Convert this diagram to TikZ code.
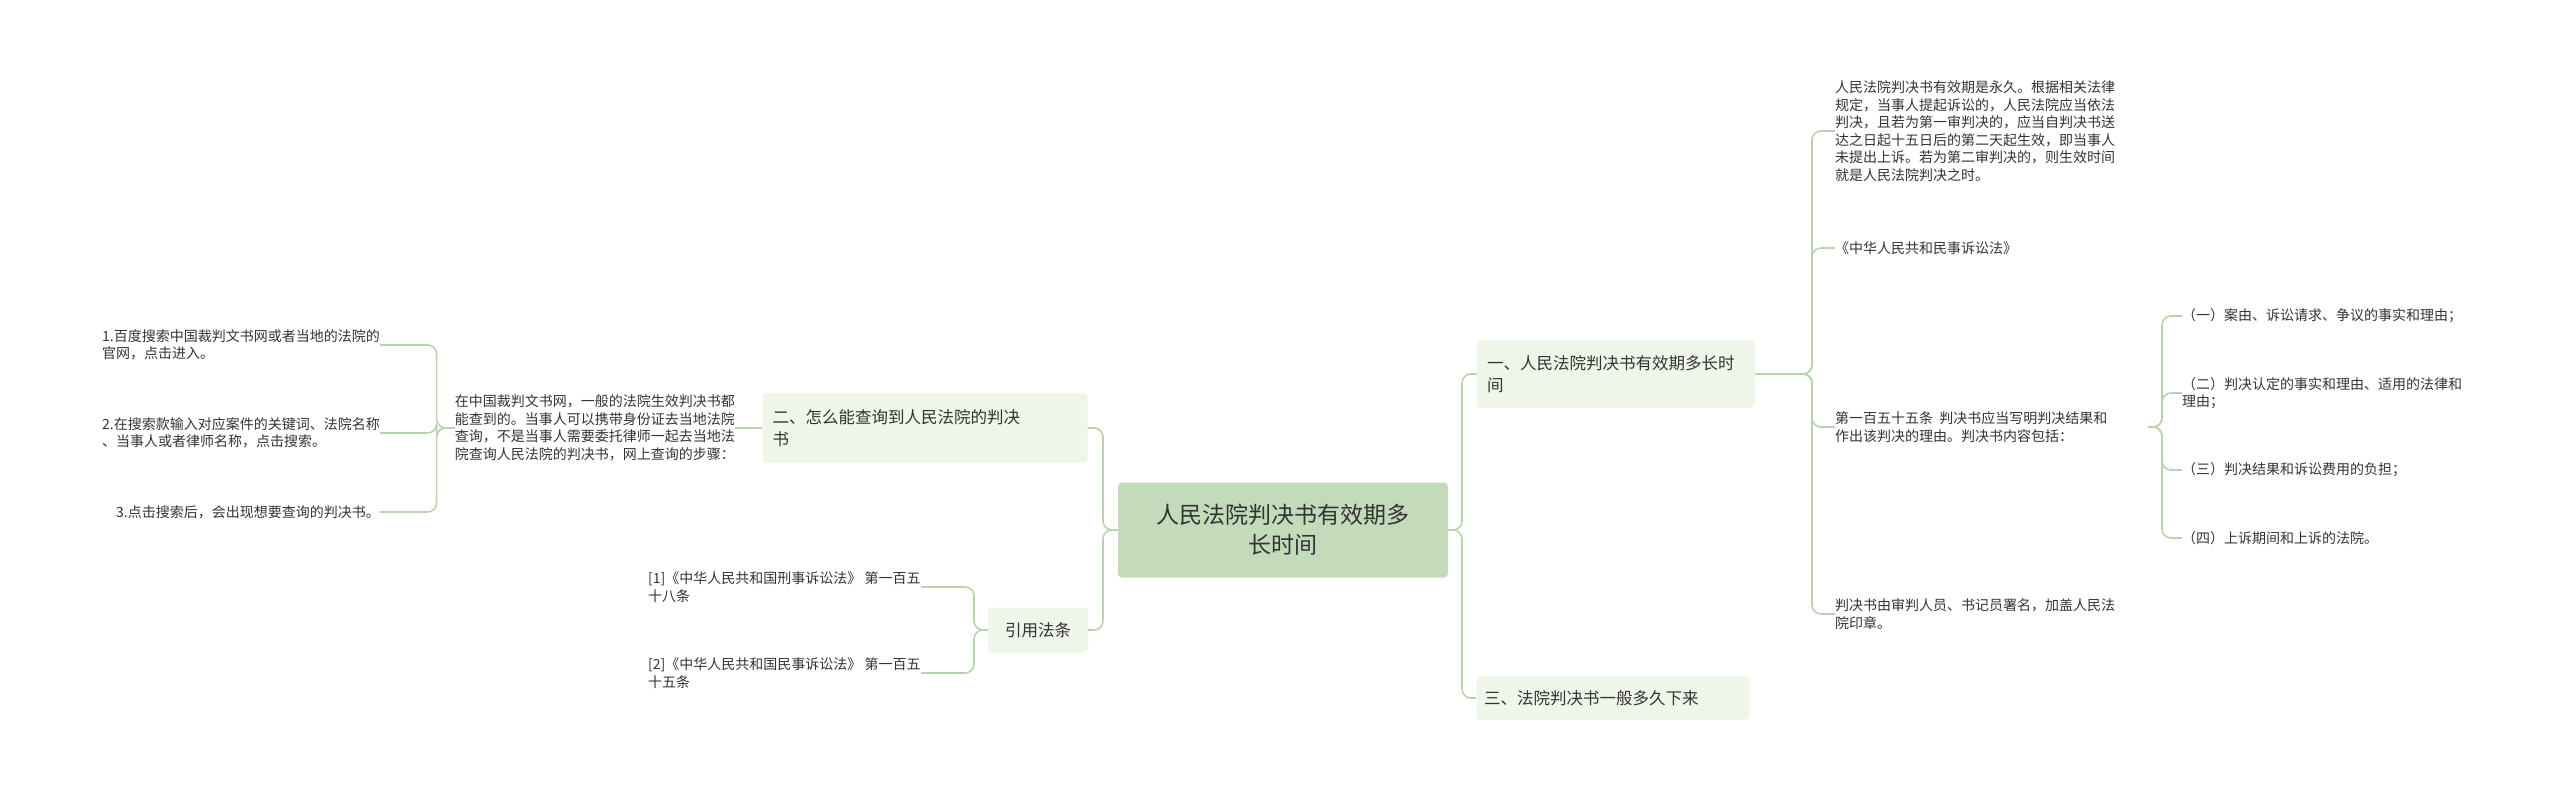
\documentclass[tikz,border=0pt]{standalone}
\usepackage{fontspec}
\setmainfont{Noto Sans CJK SC}
\definecolor{rootc}{HTML}{C3DBBA}
\definecolor{brc}{HTML}{EFF5E8}
\definecolor{lnc}{HTML}{B8D3AE}
\definecolor{txc}{HTML}{333333}
\begin{document}
\begin{tikzpicture}[x=1pt,y=-1pt,
  rootbox/.style={fill=rootc,rounded corners=4pt,align=center,font=\fontsize{23}{30}\selectfont,text=txc,inner sep=0pt},
  brbox/.style={fill=brc,rounded corners=4pt,align=left,font=\fontsize{16.5}{22}\selectfont,text=txc,inner sep=0pt},
  leaf/.style={align=left,font=\fontsize{14}{17.5}\selectfont,text=txc,inner sep=0pt},
  conn/.style={draw=lnc,line width=1.6pt,rounded corners=9pt}]
\useasboundingbox (0,0) rectangle (2560,786);
\node[rootbox,minimum width=330,minimum height=95] (root) at (1283,530) {人民法院判决书有效期多\\长时间};
\node[brbox,minimum width=278,minimum height=68,text width=258] (b1) at (1616,374) {一、人民法院判决书有效期多长时\\间};
\node[brbox,minimum width=273,minimum height=44,text width=258] (b3) at (1613,698) {三、法院判决书一般多久下来};
\node[brbox,minimum width=325,minimum height=70,text width=305] (b2) at (925,428) {二、怎么能查询到人民法院的判决\\书};
\node[brbox,minimum width=100,minimum height=45,align=center] (b4) at (1038,630) {引用法条};
% right leaves
\node[leaf,anchor=west] (l1) at (1835,131) {人民法院判决书有效期是永久。根据相关法律\\规定，当事人提起诉讼的，人民法院应当依法\\判决，且若为第一审判决的，应当自判决书送\\达之日起十五日后的第二天起生效，即当事人\\未提出上诉。若为第二审判决的，则生效时间\\就是人民法院判决之时。};
\node[leaf,anchor=west] (l2) at (1835,248) {《中华人民共和民事诉讼法》};
\node[leaf,anchor=west] (l3) at (1835,427) {第一百五十五条\ \ 判决书应当写明判决结果和\\作出该判决的理由。判决书内容包括：};
\node[leaf,anchor=west] (l4) at (1835,614) {判决书由审判人员、书记员署名，加盖人民法\\院印章。};
\node[leaf,anchor=west] (s1) at (2182,316) {（一）案由、诉讼请求、争议的事实和理由；};
\node[leaf,anchor=west] (s2) at (2182,393) {（二）判决认定的事实和理由、适用的法律和\\理由；};
\node[leaf,anchor=west] (s3) at (2182,470) {（三）判决结果和诉讼费用的负担；};
\node[leaf,anchor=west] (s4) at (2182,538) {（四）上诉期间和上诉的法院。};
% left leaves
\node[leaf,anchor=east] (c1) at (735,428) {在中国裁判文书网，一般的法院生效判决书都\\能查到的。当事人可以携带身份证去当地法院\\查询，不是当事人需要委托律师一起去当地法\\院查询人民法院的判决书，网上查询的步骤：};
\node[leaf,anchor=east] (d1) at (380,345) {1.百度搜索中国裁判文书网或者当地的法院的\\官网，点击进入。};
\node[leaf,anchor=east] (d2) at (380,433) {2.在搜索款输入对应案件的关键词、法院名称\\、当事人或者律师名称，点击搜索。};
\node[leaf,anchor=east] (d3) at (380,512) {3.点击搜索后，会出现想要查询的判决书。};
\node[leaf,anchor=west] (e1) at (648,587) {[1]《中华人民共和国刑事诉讼法》 第一百五\\十八条};
\node[leaf,anchor=west] (e2) at (648,673) {[2]《中华人民共和国民事诉讼法》 第一百五\\十五条};
% connectors
\draw[conn] (root.east) -- (1462,530) |- (b1.west);
\draw[conn] (root.east) -- (1462,530) |- (b3.west);
\draw[conn] (b1.east) -- (1812,374) |- (l1.west);
\draw[conn] (b1.east) -- (1812,374) |- (l2.west);
\draw[conn] (b1.east) -- (1812,374) |- (l3.west);
\draw[conn] (b1.east) -- (1812,374) |- (l4.west);
\draw[conn] (2148,427) -- (2162,427) |- (s1.west);
\draw[conn] (2148,427) -- (2162,427) |- (s2.west);
\draw[conn] (2148,427) -- (2162,427) |- (s3.west);
\draw[conn] (2148,427) -- (2162,427) |- (s4.west);
\draw[conn] (root.west) -- (1103,530) |- (b2.east);
\draw[conn] (root.west) -- (1103,530) |- (b4.east);
\draw[conn] (b2.west) -- (c1.east);
\draw[conn] (c1.west) -- ++(-18,0) |- (d1.east);
\draw[conn] (c1.west) -- ++(-18,0) |- (d2.east);
\draw[conn] (c1.west) -- ++(-18,0) |- (d3.east);
\draw[conn] (b4.west) -- (974,630) |- (e1.east);
\draw[conn] (b4.west) -- (974,630) |- (e2.east);
\end{tikzpicture}
\end{document}
